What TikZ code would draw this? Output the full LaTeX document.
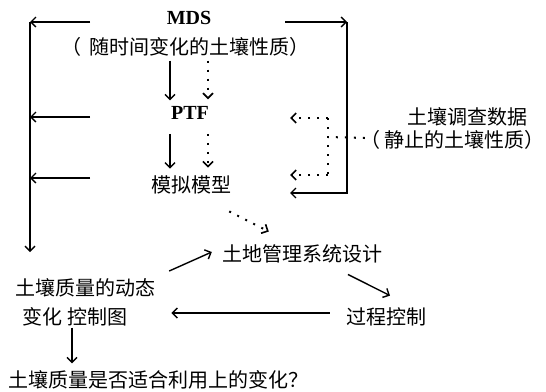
\documentclass[tikz,border=0pt]{standalone}
\usepackage{fontspec}
\newfontfamily\cjk{Noto Sans CJK SC}
\newfontfamily\tnr{Liberation Serif}
\usetikzlibrary{arrows.meta,calc}
\begin{document}
\begin{tikzpicture}[x=1pt,y=-1pt,
  cjklbl/.style={inner sep=1pt,font=\cjk\fontsize{20}{22}\selectfont},
  boldlbl/.style={inner sep=1pt,font=\tnr\bfseries\fontsize{20}{22}\selectfont},
  arr/.style={line width=1.4pt,-{Straight Barb[length=5pt,width=10pt,line width=1.4pt]}},
  plain/.style={line width=1.4pt},
  dots/.style={line width=2pt,dash pattern=on 2pt off 7pt},
  darr/.style={dots,-{Straight Barb[length=5pt,width=10pt,line width=1.6pt]}}]
\useasboundingbox (0,0) rectangle (546,391);
% nodes
\node[boldlbl] (mds) at (189,18) {MDS};
\node[cjklbl] (mdsp) at (185,47) {（\hspace{8pt}随时间变化的土壤性质）};
\node[boldlbl] (ptf) at (190,113) {PTF};
\node[cjklbl] (sim) at (191,185) {模拟模型};
\node[cjklbl] (survey) at (467,117) {土壤调查数据};
\node[cjklbl] (surveyp) at (452,140) {（\hspace{4pt}静止的土壤性质）};
\node[cjklbl] (land) at (302,254) {土地管理系统设计};
\node[cjklbl] (proc) at (386,317) {过程控制};
\node[cjklbl] (dyn1) at (86,288) {土壤质量的动态};
\node[cjklbl] (dyn2) at (75,317) {变化 控制图};
\node[cjklbl] (q) at (159,380) {土壤质量是否适合利用上的变化？};
% coordinates for the buses
\coordinate (tlS) at (90,22);
\coordinate (tl) at (30,22);
\coordinate (lbus) at (30,252);
\coordinate (l2S) at (90,117);
\coordinate (l2) at (30,117);
\coordinate (l3S) at (90,178);
\coordinate (l3) at (30,178);
\coordinate (trS) at (285,22);
\coordinate (tr) at (347,22);
\coordinate (br) at (347,193);
\coordinate (brE) at (290,193);
\coordinate (sj) at (328,137);
\coordinate (sjt) at (328,118);
\coordinate (sjb) at (328,175);
\coordinate (st) at (290,118);
\coordinate (sb) at (290,175);
% left bus
\draw[arr] (tlS) -- (tl);
\draw[arr] (tl) -- (lbus);
\draw[arr] (l2S) -- (l2);
\draw[arr] (l3S) -- (l3);
% right bus
\draw[arr] (trS) -- (tr);
\draw[arr] (tr) -- (br) -- (brE);
% MDS -> PTF -> model
\draw[arr] ($(mdsp.south)+(-15,3)$) -- ($(ptf.north)+(-20,-5)$);
\draw[darr] ($(mdsp.south)+(23,3)$) -- ($(ptf.north)+(18,-6)$);
\draw[arr] ($(ptf.south)+(-20,13)$) -- ($(sim.north)+(-21,-6)$);
\draw[darr] ($(ptf.south)+(18,13)$) -- ($(sim.north)+(17,-7)$);
% survey dotted
\draw[dots] ($(surveyp.west)+(6,-2)$) -- (sj);
\draw[dots] (sjt) -- (sjb);
\draw[darr] (sjt) -- (st);
\draw[darr] (sjb) -- (sb);
% lower part
\draw[darr] ($(sim.south east)+(-3,16)$) -- ($(land.north west)+(48,-12)$);
\draw[arr] ($(dyn1.east)+(12,-17)$) -- ($(land.west)+(-9,-2)$);
\draw[arr] ($(land.south)+(46,10)$) -- ($(proc.north)+(4,-11)$);
\draw[plain,-{Straight Barb[length=5pt,width=10pt,line width=1.4pt]}] ($(proc.west)+(-15,-4)$) -- ($(dyn2.east)+(43,-4)$);
\draw[arr] ($(dyn2.south)+(-3,0)$) -- ($(q.north)+(-87,-6)$);
\end{tikzpicture}
\end{document}
